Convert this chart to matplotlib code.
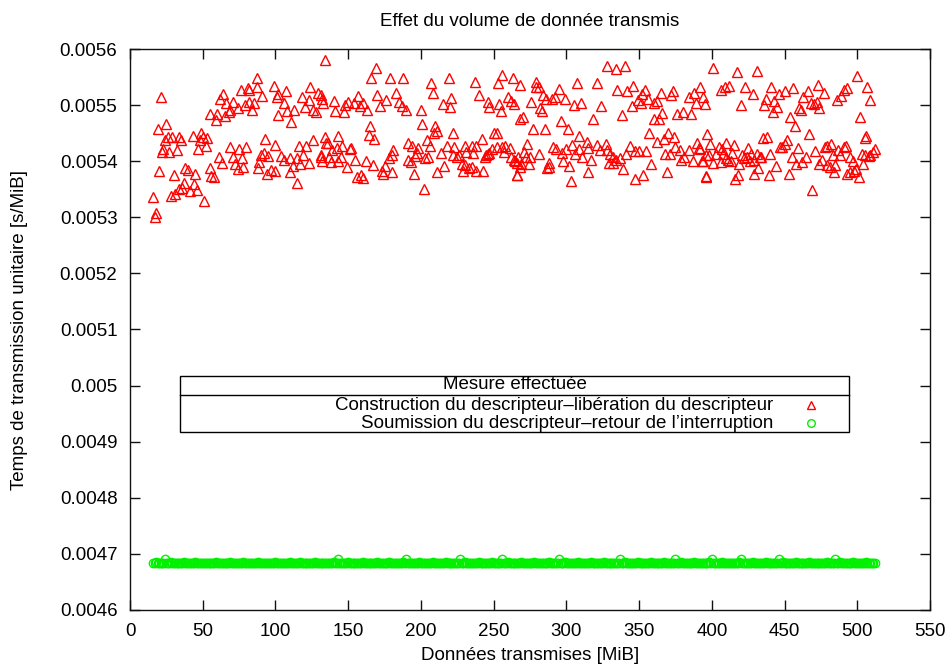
# Effet du volume de donnees transmis sur le temps de transmission unitaire
import numpy as np
import matplotlib.pyplot as plt
from matplotlib.patches import Rectangle

plt.rcParams["font.family"] = ["Liberation Sans", "DejaVu Sans"]

# Construction du descripteur -> liberation du descripteur
# taille [MiB] et temps unitaire [us/MiB]
constr_mib = [
    16, 17, 18, 21, 19, 25, 20, 23, 22, 24, 26, 29, 27, 32, 34, 35, 30, 28, 31, 34,
    37, 36, 38, 40, 41, 44, 46, 45, 43, 49, 50, 48, 53, 47, 52, 51, 55, 56, 58, 61,
    63, 55, 60, 59, 62, 64, 66, 65, 68, 69, 71, 74, 76, 79, 81, 82, 82, 84, 85, 87,
    87, 91, 69, 71, 75, 80, 77, 72, 74, 78, 88, 89, 90, 92, 93, 95, 94, 97, 100, 100,
    99, 101, 102, 107, 106, 108, 102, 111, 113, 104, 106, 110, 112, 115, 117, 119, 116, 110, 115, 118,
    120, 123, 124, 129, 132, 133, 126, 128, 134, 121, 126, 134, 135, 131, 132, 123,
    169, 166, 179, 188, 207, 219, 208, 237, 256, 253, 263, 131, 140, 141, 147, 148, 150, 154, 157, 158,
    160, 163, 170, 172, 176, 183, 185, 187, 190, 200, 215, 220, 221, 240, 246, 247, 254, 255, 260, 264,
    268, 165, 164, 168, 201, 210, 211, 209, 222, 250, 252, 143, 136, 139, 142, 146, 151, 152, 131, 137,
    145, 138, 143, 149, 155, 162, 167, 181, 180, 178, 175, 173, 174, 180, 156, 159, 160, 191, 194, 198,
    197, 196, 204, 206, 191, 193, 203, 205, 195, 202, 211, 216, 214, 218, 223, 222, 225, 226, 230, 231,
    235, 236, 238, 228, 230, 233, 229, 235, 238, 243, 242, 244, 246, 249, 252, 256, 258, 262, 265, 266,
    268, 245, 247, 257,
    328, 334, 340, 268, 279, 279, 281, 307, 321, 295, 284, 286, 290, 292, 299, 262, 276, 305, 310, 324,
    335, 342, 346, 354, 352, 349, 345, 351, 356, 360, 362, 365, 373, 372, 384, 388, 392, 394, 389, 395,
    282, 283, 270, 296, 318, 338, 366, 360, 364, 376, 380, 386, 277, 285, 301, 309, 357, 370, 367, 374,
    362, 273, 261, 271, 281, 267, 272, 275, 264, 266, 269, 274, 266, 291, 293, 297, 300, 304, 306, 309,
    314, 315, 311, 317, 321, 323, 327, 328, 330, 332, 334, 337, 329, 332, 298, 302, 288, 288, 287, 315,
    303, 339, 341, 344, 347, 350, 355, 347, 353, 358, 369, 368, 371, 375, 378, 379, 381, 384, 387, 390,
    391, 393, 396, 396,
    401, 417, 431, 500, 406, 409, 412, 423, 428, 441, 446, 450, 456, 473, 477, 466, 463, 420, 437, 436,
    443, 445, 442, 468, 470, 472, 474, 460, 461, 486, 489, 491, 493, 507, 509, 502, 454, 457, 467, 397,
    435, 438, 452, 505, 506, 399, 405, 407, 410, 415, 392, 398, 403, 408, 414, 425, 421, 424, 427, 431,
    433, 440, 448, 450, 447, 459, 471, 478, 479, 482, 487, 491, 492, 503, 505, 509, 511, 512, 394, 401,
    411, 413, 410, 419, 422, 426, 429, 434, 444, 455, 458, 462, 465, 474, 476, 479, 481, 485, 483, 488,
    495, 497, 504, 508, 396, 416, 418, 429, 439, 432, 453, 469, 484, 493, 495, 498, 499, 501, 406,
]
constr_us = [
    5337, 5301, 5307, 5514, 5457, 5466, 5383, 5422, 5417, 5438, 5444, 5444, 5417, 5420, 5443, 5438, 5375, 5338, 5342, 5350,
    5362, 5352, 5387, 5384, 5347, 5359, 5349, 5378, 5445, 5451, 5444, 5438, 5442, 5421, 5427, 5329, 5387, 5374, 5372, 5408,
    5396, 5485, 5484, 5473, 5510, 5520, 5503, 5481, 5488, 5491, 5506, 5494, 5527, 5500, 5530, 5506, 5527, 5492, 5503, 5533,
    5549, 5516, 5426, 5407, 5421, 5425, 5405, 5395, 5386, 5389, 5387, 5399, 5411, 5415, 5439, 5409, 5378, 5384, 5383, 5429,
    5534, 5514, 5520, 5526, 5503, 5489, 5482, 5470, 5492, 5409, 5403, 5405, 5391, 5405, 5395, 5411, 5427, 5381, 5362, 5515,
    5497, 5509, 5533, 5522, 5510, 5503, 5491, 5487, 5580, 5427, 5438, 5443, 5433, 5411, 5401, 5396,
    5567, 5548, 5549, 5548, 5539, 5549, 5522, 5541, 5554, 5539, 5548, 5518, 5508, 5489, 5487, 5500, 5506, 5503, 5516, 5498,
    5503, 5491, 5518, 5498, 5509, 5522, 5506, 5498, 5491, 5491, 5502, 5496, 5512, 5518, 5506, 5496, 5502, 5490, 5515, 5502,
    5476, 5463, 5447, 5439, 5467, 5463, 5454, 5451, 5450, 5450, 5451, 5445, 5432, 5420, 5423, 5427, 5421, 5423, 5408, 5408,
    5407, 5399, 5401, 5390, 5402, 5401, 5393, 5420, 5411, 5405, 5391, 5383, 5377, 5381, 5372, 5375, 5370, 5432, 5427, 5423,
    5414, 5409, 5438, 5427, 5402, 5399, 5405, 5408, 5377, 5350, 5380, 5391, 5415, 5427, 5425, 5411, 5407, 5411, 5427, 5417,
    5427, 5415, 5427, 5395, 5393, 5387, 5383, 5390, 5383, 5383, 5439, 5407, 5413, 5421, 5425, 5426, 5427, 5407, 5401, 5375,
    5390, 5411, 5414, 5417,
    5570, 5564, 5570, 5536, 5542, 5532, 5532, 5540, 5540, 5528, 5518, 5510, 5510, 5515, 5510, 5508, 5506, 5500, 5503, 5498,
    5527, 5526, 5534, 5527, 5520, 5509, 5498, 5504, 5510, 5504, 5508, 5522, 5526, 5518, 5515, 5522, 5532, 5514, 5504, 5502,
    5494, 5490, 5478, 5472, 5475, 5482, 5486, 5475, 5475, 5484, 5488, 5484, 5457, 5457, 5457, 5445, 5450, 5451, 5439, 5443,
    5435, 5431, 5423, 5417, 5413, 5407, 5407, 5408, 5402, 5397, 5395, 5395, 5375, 5426, 5421, 5414, 5421, 5429, 5413, 5421,
    5435, 5423, 5408, 5403, 5429, 5420, 5431, 5420, 5413, 5408, 5403, 5405, 5397, 5397, 5401, 5391, 5397, 5390, 5387, 5381,
    5365, 5386, 5413, 5427, 5419, 5419, 5419, 5368, 5375, 5395, 5381, 5413, 5413, 5426, 5420, 5403, 5407, 5420, 5401, 5433,
    5423, 5401, 5411, 5374,
    5567, 5559, 5561, 5552, 5527, 5532, 5534, 5533, 5520, 5533, 5520, 5526, 5531, 5536, 5522, 5525, 5514, 5500, 5510, 5500,
    5508, 5497, 5488, 5504, 5502, 5506, 5494, 5494, 5492, 5509, 5516, 5527, 5530, 5532, 5509, 5478, 5479, 5463, 5448, 5448,
    5441, 5443, 5438, 5441, 5445, 5431, 5425, 5421, 5433, 5429, 5421, 5411, 5413, 5413, 5415, 5423, 5411, 5407, 5413, 5413,
    5408, 5413, 5426, 5431, 5425, 5423, 5419, 5426, 5427, 5431, 5420, 5426, 5427, 5413, 5411, 5411, 5417, 5421, 5401, 5397,
    5403, 5401, 5405, 5395, 5405, 5401, 5403, 5407, 5391, 5407, 5395, 5399, 5408, 5395, 5403, 5393, 5390, 5393, 5411, 5411,
    5407, 5401, 5395, 5409, 5372, 5368, 5375, 5377, 5375, 5387, 5377, 5349, 5380, 5377, 5380, 5383, 5386, 5371, 5399,
]

# Soumission du descripteur -> retour de l'interruption, de 16 a 512 MiB
soumis_mib = np.arange(16, 513)
soumis_us = [
    4684, 4684, 4685, 4684, 4684, 4683, 4684, 4684, 4691, 4684, 4684, 4684, 4685, 4684, 4684, 4684, 4683, 4684, 4684, 4684,
    4684, 4685, 4684, 4684, 4684, 4684, 4683, 4684, 4684, 4685, 4684, 4684, 4684, 4684, 4684, 4683, 4684, 4684, 4684, 4684,
    4684, 4684, 4684, 4685, 4684, 4684, 4684, 4684, 4683, 4684, 4684, 4684, 4684, 4685, 4684, 4684, 4684, 4684, 4684, 4683,
    4684, 4684, 4685, 4684, 4684, 4684, 4683, 4684, 4684, 4684, 4684, 4684, 4685, 4684, 4684, 4684, 4684, 4683, 4684, 4684,
    4684, 4684, 4684, 4684, 4685, 4684, 4684, 4683, 4684, 4684, 4684, 4684, 4684, 4684, 4685, 4684, 4684, 4684, 4683, 4684,
    4684, 4685, 4684, 4684, 4684, 4684, 4683, 4684, 4684, 4684, 4684, 4685, 4684, 4684, 4684, 4684, 4684, 4683, 4684, 4684,
    4684, 4684, 4684, 4684, 4685, 4684, 4684, 4691, 4684, 4684, 4683, 4684, 4684, 4684, 4685, 4684, 4684, 4684, 4684, 4684,
    4684, 4683, 4684, 4684, 4685, 4684, 4684, 4684, 4684, 4684, 4683, 4684, 4684, 4684, 4685, 4684, 4684, 4684, 4684, 4684,
    4684, 4684, 4685, 4684, 4684, 4683, 4684, 4684, 4684, 4684, 4684, 4684, 4685, 4684, 4691, 4684, 4684, 4683, 4684, 4684,
    4684, 4684, 4684, 4685, 4684, 4684, 4684, 4683, 4684, 4684, 4684, 4684, 4685, 4684, 4684, 4684, 4684, 4684, 4683, 4684,
    4684, 4685, 4684, 4684, 4684, 4684, 4683, 4684, 4684, 4684, 4684, 4691, 4684, 4684, 4685, 4684, 4684, 4684, 4683, 4684,
    4684, 4684, 4684, 4684, 4685, 4684, 4684, 4684, 4683, 4684, 4684, 4684, 4684, 4685, 4684, 4684, 4684, 4684, 4684, 4683,
    4691, 4684, 4684, 4684, 4685, 4684, 4684, 4683, 4684, 4684, 4684, 4684, 4684, 4685, 4684, 4684, 4684, 4684, 4683, 4684,
    4684, 4684, 4685, 4684, 4684, 4684, 4683, 4684, 4684, 4684, 4684, 4684, 4685, 4684, 4684, 4684, 4683, 4684, 4684, 4691,
    4684, 4684, 4684, 4685, 4684, 4684, 4684, 4684, 4683, 4684, 4684, 4684, 4685, 4684, 4684, 4684, 4684, 4684, 4683, 4684,
    4684, 4685, 4684, 4684, 4684, 4683, 4684, 4684, 4684, 4684, 4685, 4684, 4684, 4684, 4684, 4683, 4684, 4684, 4684, 4684,
    4684, 4691, 4684, 4684, 4685, 4684, 4684, 4684, 4683, 4684, 4684, 4684, 4684, 4685, 4684, 4684, 4684, 4683, 4684, 4684,
    4684, 4684, 4685, 4684, 4684, 4684, 4683, 4684, 4684, 4684, 4684, 4685, 4684, 4684, 4684, 4684, 4683, 4684, 4684, 4691,
    4684, 4684, 4684, 4685, 4684, 4684, 4683, 4684, 4684, 4684, 4684, 4684, 4685, 4684, 4684, 4684, 4683, 4684, 4684, 4684,
    4684, 4684, 4685, 4684, 4691, 4684, 4684, 4683, 4684, 4684, 4684, 4685, 4684, 4684, 4684, 4684, 4683, 4684, 4684, 4684,
    4684, 4684, 4684, 4685, 4691, 4684, 4684, 4684, 4683, 4684, 4684, 4684, 4685, 4684, 4684, 4684, 4684, 4683, 4684, 4684,
    4684, 4685, 4684, 4684, 4684, 4684, 4683, 4684, 4684, 4684, 4691, 4684, 4684, 4685, 4684, 4684, 4684, 4683, 4684, 4684,
    4684, 4684, 4685, 4684, 4684, 4684, 4683, 4684, 4684, 4684, 4684, 4685, 4684, 4684, 4684, 4684, 4683, 4684, 4684, 4684,
    4684, 4684, 4684, 4685, 4684, 4684, 4684, 4683, 4684, 4691, 4684, 4684, 4685, 4684, 4684, 4684, 4683, 4684, 4684, 4684,
    4684, 4685, 4684, 4684, 4684, 4683, 4684, 4684, 4684, 4684, 4685, 4684, 4684, 4684, 4683, 4684, 4684,
]

xticks_values = [0, 50, 100, 150, 200, 250, 300, 350, 400, 450, 500, 550]
yticks_values = [0.0046, 0.0047, 0.0048, 0.0049, 0.0050, 0.0051, 0.0052, 0.0053, 0.0054, 0.0055, 0.0056]
yticks_labels = ["0.0046", "0.0047", "0.0048", "0.0049", "0.005", "0.0051",
                 "0.0052", "0.0053", "0.0054", "0.0055", "0.0056"]

label_constr = "Construction du descripteur\u2013lib\u00e9ration du descripteur"
label_soumis = "Soumission du descripteur\u2013retour de l\u2019interruption"

red = "#ff0000"
green = "#00f000"
fs = 13.5

fig = plt.figure(figsize=(9.48, 6.66), dpi=100)
ax = fig.add_axes([130 / 948, 56 / 666, 800 / 948, 561 / 666])

ax.plot(constr_mib, np.array(constr_us) * 1e-6, linestyle="none", marker="^",
        markersize=7, markerfacecolor="none", markeredgecolor=red, markeredgewidth=1)
ax.plot(soumis_mib, np.array(soumis_us) * 1e-6, linestyle="none", marker="o",
        markersize=6, markerfacecolor="none", markeredgecolor=green, markeredgewidth=1)

ax.set_xlim(0, 550)
ax.set_ylim(0.0046, 0.0056)
ax.set_xticks(xticks_values)
ax.set_xticklabels([str(x) for x in xticks_values])
ax.set_yticks(yticks_values)
ax.set_yticklabels(yticks_labels)
ax.tick_params(direction="in", length=7, width=1, top=True, right=True,
               labelsize=fs, pad=9, color="#111111")
for sp in ax.spines.values():
    sp.set_linewidth(1)
    sp.set_color("#111111")

fig.text(530 / 948, 1 - 22 / 666, "Effet du volume de donn\u00e9e transmis",
         ha="center", va="center", fontsize=fs)
ax.set_xlabel("Donn\u00e9es transmises [MiB]", fontsize=fs, va="center")
ax.xaxis.set_label_coords(0.5, (610 - 655) / 561)
ax.set_ylabel("Temps de transmission unitaire [s/MiB]", fontsize=fs, va="center")
ax.yaxis.set_label_coords((20 - 130) / 800, 0.5)

# legend box, gnuplot style
box_l, box_r, box_b, box_t = 0.0625, 0.899, 0.3173, 0.4171
ax.add_patch(Rectangle((box_l, box_b), box_r - box_l, box_t - box_b, transform=ax.transAxes,
                       fill=False, edgecolor="black", linewidth=1, zorder=5))
ax.plot([box_l, box_r], [0.3832, 0.3832], transform=ax.transAxes, color="black",
        linewidth=1, zorder=5)
ax.text((box_l + box_r) / 2, 0.4015, "Mesure effectu\u00e9e", transform=ax.transAxes,
        ha="center", va="center", fontsize=fs)
ax.text(0.8038, 0.3654, label_constr, transform=ax.transAxes, ha="right", va="center", fontsize=fs)
ax.text(0.8038, 0.3333, label_soumis, transform=ax.transAxes, ha="right", va="center", fontsize=fs)
ax.plot([0.851], [0.3654], transform=ax.transAxes, linestyle="none", marker="^", markersize=6,
        markerfacecolor="none", markeredgecolor=red, markeredgewidth=1)
ax.plot([0.851], [0.3333], transform=ax.transAxes, linestyle="none", marker="o", markersize=5.5,
        markerfacecolor="none", markeredgecolor=green, markeredgewidth=1)

fig.savefig("out.png", dpi=100)
